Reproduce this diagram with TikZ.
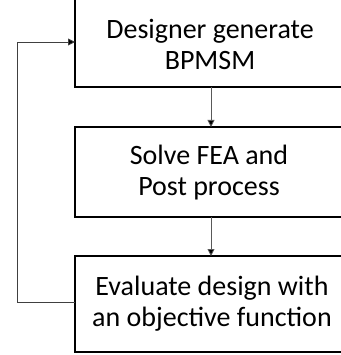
\documentclass[tikz,border=0pt]{standalone}
\usepackage{fontspec}
\setmainfont{Carlito}
\usetikzlibrary{arrows.meta}
\begin{document}
\begin{tikzpicture}[x=1pt,y=-1pt,
  stepbox/.style={draw=black,line width=1.4pt},
  steptext/.style={align=center,font=\fontsize{28}{31}\selectfont,inner sep=0pt},
  flow/.style={draw=black!65,line width=0.8pt,-{Triangle[length=7pt,width=7pt,fill=black]}},
  back/.style={draw=black!75,line width=0.8pt}]
\useasboundingbox (0,0) rectangle (340,355);
% process boxes, open past the right border
\draw[stepbox] (75,-5) rectangle (360,87);
\draw[stepbox] (75,127) rectangle (360,217);
\draw[stepbox] (75,256) rectangle (360,352);
\node[steptext] (design) at (210,44) {Designer generate\\BPMSM};
\node[steptext] (solve) at (209,173) {Solve FEA and\\Post process};
\node[steptext] (eval) at (212,304) {Evaluate design with\\an objective function};
\coordinate (d-bot) at (211,87);
\coordinate (s-top) at (211,127);
\coordinate (s-bot) at (211,217);
\coordinate (e-top) at (211,256);
\coordinate (e-left) at (75,302);
\coordinate (d-left) at (75,42);
\draw[flow] (d-bot) -- (s-top);
\draw[flow] (s-bot) -- (e-top);
\draw[back,-{Triangle[length=7pt,width=7pt,fill=black]}] (e-left) -- (17,302) -- (17,42) -- (d-left);
\end{tikzpicture}
\end{document}
